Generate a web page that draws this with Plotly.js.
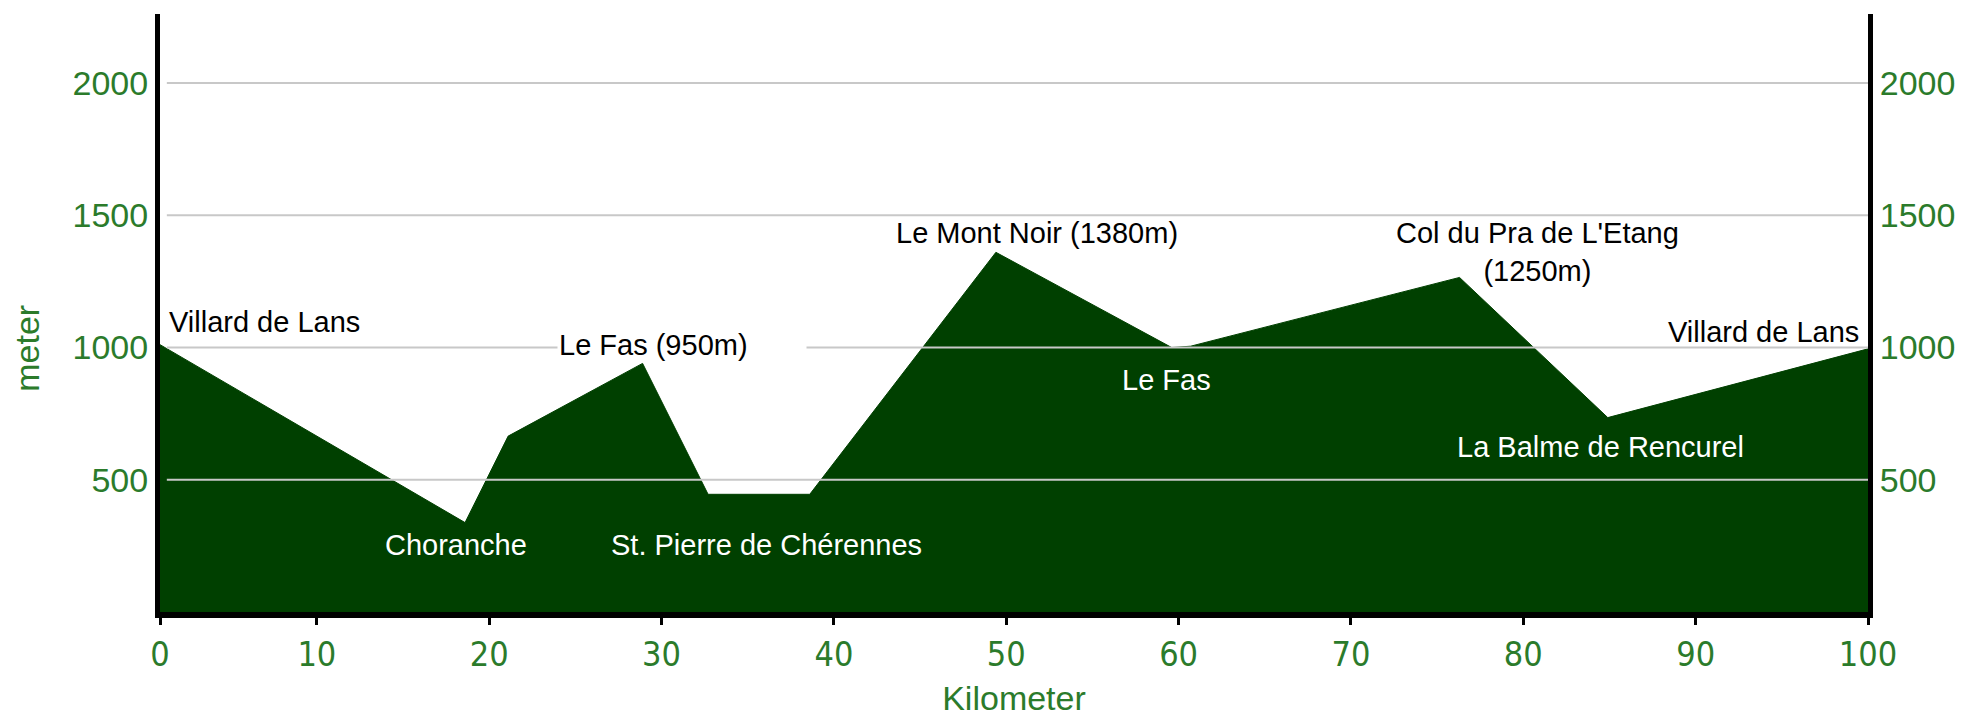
<!DOCTYPE html>
<html>
<head>
<meta charset="utf-8">
<script src="https://cdn.plot.ly/plotly-3.0.1.min.js"></script>
<style>
  html, body { margin: 0; padding: 0; background: #ffffff; }
  #chart { width: 1961px; height: 717px; }
</style>
</head>
<body>
<div id="chart"></div>
<script>
// ---- data ----
const distanceKm = [0, 18.6, 21.1, 28.9, 32.7, 38.6, 49.4, 59.6, 60.7, 76.3, 84.9, 100];
const elevationM = [1045, 338, 665, 940, 445, 445, 1360, 1000, 1005, 1265, 735, 995];

const xTickValues = [0.9, 10, 20, 30, 40, 50, 60, 70, 80, 90, 100];
const xTickLabels = ["0", "10", "20", "30", "40", "50", "60", "70", "80", "90", "100"];
const yTickValues = [500, 1000, 1500, 2000];
const yTickLabels = ["500", "1000", "1500", "2000"];

const placeNames = [
  "Villard de Lans", "Choranche", "Le Fas (950m)", "St. Pierre de Chérennes",
  "Le Mont Noir (1380m)", "Le Fas", "Col du Pra de L'Etang<br>(1250m)",
  "Villard de Lans", "La Balme de Rencurel"
];

// ---- styling / placement ----
const FILL = "#004000";
const GREEN = "#2b7b2b";
const SANS = "Liberation Sans, Arial, sans-serif";
const NARROW = "Liberation Sans Narrow, Arial Narrow, DejaVu Sans Condensed, Liberation Sans, Arial, sans-serif";

// label placement: [x, y, xanchor, colour, extra]
const labelPlacement = [
  [1.3, 1096, "left", "black"],
  [18.1, 253, "center", "white"],
  [23.95, 1009, "left", "black", {bgcolor: "#ffffff", width: 246, align: "left"}],
  [36.1, 253, "center", "white"],
  [51.8, 1433, "center", "black"],
  [59.3, 877, "center", "white"],
  [80.8, 1361, "center", "black"],
  [99.6, 1059, "right", "black"],
  [84.5, 624, "center", "white"]
];

const annotations = placeNames.map((name, i) => {
  const p = labelPlacement[i];
  return Object.assign({
    text: name, x: p[0], y: p[1], xref: "x", yref: "y",
    xanchor: p[2], yanchor: "middle", showarrow: false,
    font: {family: SANS, size: 29, color: p[3]}
  }, p[4] || {});
});

annotations.push({
  text: "meter", textangle: -90, xref: "paper", yref: "paper",
  x: -0.078, y: (612 - 348) / 598, xanchor: "center", yanchor: "middle",
  showarrow: false, font: {family: SANS, size: 34, color: GREEN}
});

const gridShapes = yTickValues.map(v => ({
  type: "line", xref: "paper", yref: "y", x0: 0.004, x1: 1, y0: v, y1: v,
  line: {color: "#c8c8c8", width: 2}, layer: "above"
}));

const yRange = [0, 2261];

const traces = [
  {
    x: distanceKm, y: elevationM, type: "scatter", mode: "lines",
    fill: "tozeroy", fillcolor: FILL, line: {color: FILL, width: 1},
    hoverinfo: "skip", showlegend: false
  },
  {
    x: distanceKm, y: elevationM, type: "scatter", mode: "lines", yaxis: "y2",
    line: {color: "rgba(0,0,0,0)", width: 0}, hoverinfo: "skip", showlegend: false
  }
];

const layout = {
  width: 1961, height: 717,
  margin: {l: 160, r: 93, t: 14, b: 105, pad: 0},
  paper_bgcolor: "#ffffff", plot_bgcolor: "#ffffff",
  showlegend: false,
  xaxis: {
    range: [0.9, 100], tickmode: "array", tickvals: xTickValues, ticktext: xTickLabels,
    showgrid: false, zeroline: false,
    showline: true, linecolor: "#000000", linewidth: 6,
    ticks: "outside", ticklen: 7, tickwidth: 3, tickcolor: "#000000",
    tickfont: {family: NARROW, size: 34, color: GREEN},
    title: {text: "Kilometer", font: {family: SANS, size: 34, color: GREEN}, standoff: 20}
  },
  yaxis: {
    range: yRange, tickmode: "array", tickvals: yTickValues, ticktext: yTickLabels,
    showgrid: false, zeroline: false,
    showline: true, linecolor: "#000000", linewidth: 5, ticks: "",
    tickfont: {family: SANS, size: 34, color: GREEN}
  },
  yaxis2: {
    overlaying: "y", side: "right",
    range: yRange, tickmode: "array", tickvals: yTickValues, ticktext: yTickLabels,
    showgrid: false, zeroline: false,
    showline: true, linecolor: "#000000", linewidth: 5, ticks: "",
    tickfont: {family: SANS, size: 34, color: GREEN}
  },
  shapes: gridShapes,
  annotations: annotations
};

Plotly.newPlot("chart", traces, layout, {staticPlot: true, displayModeBar: false});
</script>
</body>
</html>
